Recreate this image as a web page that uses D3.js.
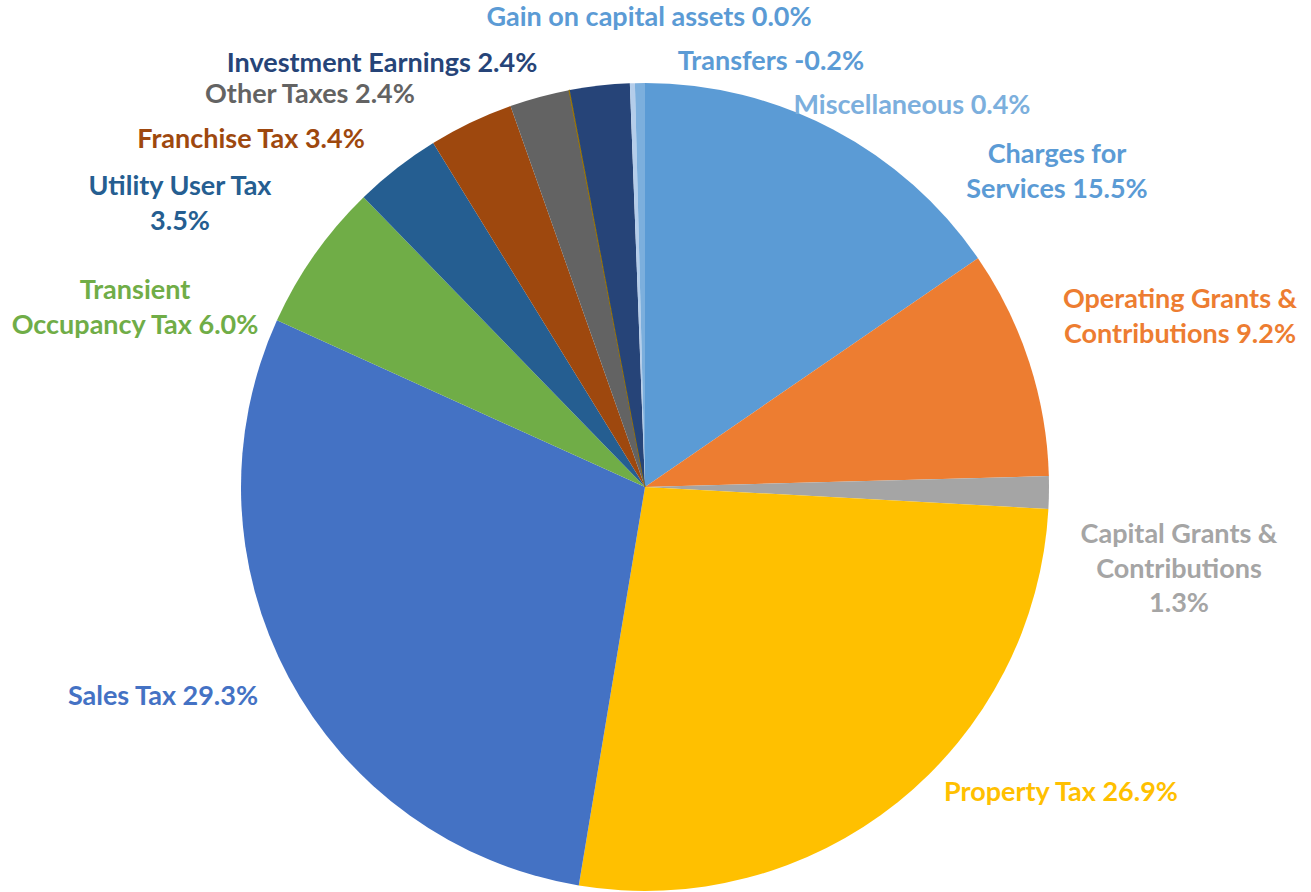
<!DOCTYPE html>
<html>
<head>
<meta charset="utf-8">
<script src="https://cdn.jsdelivr.net/npm/d3@7"></script>
<style>
    body { margin: 0; background: #fff; }
    svg { display: block; }
    .label { font-family: Lato, "Open Sans", sans-serif; font-weight: 700; }
</style>
</head>
<body>
<svg id="chart" width="1311" height="892"></svg>
<script>
// revenue sources, clockwise from 12 o'clock
const categories = [
    "Charges for Services",
    "Operating Grants & Contributions",
    "Capital Grants & Contributions",
    "Property Tax",
    "Sales Tax",
    "Transient Occupancy Tax",
    "Utility User Tax",
    "Franchise Tax",
    "Other Taxes",
    "Gain on capital assets",
    "Investment Earnings",
    "Transfers",
    "Miscellaneous"
]
// percent of total revenue
const shares = [15.5, 9.2, 1.3, 26.9, 29.3, 6.0, 3.5, 3.4, 2.4, 0.03, 2.4, -0.2, 0.4]

// how each data label wraps ("|" = line break, {v} = value)
const labelText = [
    "Charges for|Services {v}",
    "Operating Grants &|Contributions {v}",
    "Capital Grants &|Contributions|{v}",
    "Property Tax {v}",
    "Sales Tax {v}",
    "Transient|Occupancy Tax {v}",
    "Utility User Tax|{v}",
    "Franchise Tax {v}",
    "Other Taxes {v}",
    "Gain on capital assets {v}",
    "Investment Earnings {v}",
    "Transfers {v}",
    "Miscellaneous {v}"
]

const sliceColors = ["#5B9BD5", "#ED7D31", "#A5A5A5", "#FFC000", "#4472C4", "#70AD47",
    "#255E91", "#9E480E", "#636363", "#997300", "#264478", "#B4CDEA", "#7CAFDD"]
const labelColors = ["#5B9BD5", "#ED7D31", "#A5A5A5", "#FFC000", "#4472C4", "#70AD47",
    "#255E91", "#9E480E", "#636363", "#5B9BD5", "#264478", "#5B9BD5", "#7CAFDD"]

// label anchors (centre x, first baseline y) - labels were hand placed in the original
const labelPos = [
    [1057, 163], [1180, 308], [1179, 543], [1061, 801], [163, 705], [135, 299],
    [180, 195], [251, 148], [310, 103], [649, 26], [382, 72], [771, 70], [912, 114]
]

const width = 1311, height = 892
const cx = 645, cy = 487, radius = 404
const lineHeight = 34.5
const fmt = v => d3.format(".1f")(v).replace("\u2212", "-")

const svg = d3.select("#chart")

const data = categories.map((name, i) => ({ name, value: shares[i], i }))

const pie = d3.pie()
    .sort(null)
    .value(d => Math.abs(d.value))

const arc = d3.arc()
    .innerRadius(0)
    .outerRadius(radius)

const g = svg.append("g").attr("transform", `translate(${cx},${cy})`)

g.selectAll("path")
    .data(pie(data))
    .join("path")
    .attr("d", arc)
    .attr("fill", d => sliceColors[d.data.i])
    .attr("stroke", d => d.data.i === 9 ? sliceColors[9] : "none")
    .attr("stroke-width", d => d.data.i === 9 ? 1 : 0)

/* data labels */
const labels = svg.append("g")
    .selectAll("text")
    .data(data)
    .join("text")
    .attr("class", "label")
    .attr("text-anchor", "middle")
    .attr("font-size", 27)
    .attr("fill", d => labelColors[d.i])
    .attr("x", d => labelPos[d.i][0])
    .attr("y", d => labelPos[d.i][1])

labels.each(function (d) {
    const lines = labelText[d.i].replace("{v}", fmt(d.value) + "%").split("|")
    d3.select(this).selectAll("tspan")
        .data(lines)
        .join("tspan")
        .attr("x", labelPos[d.i][0])
        .attr("dy", (l, k) => k === 0 ? 0 : lineHeight)
        .text(l => l)
})
</script>
</body>
</html>
